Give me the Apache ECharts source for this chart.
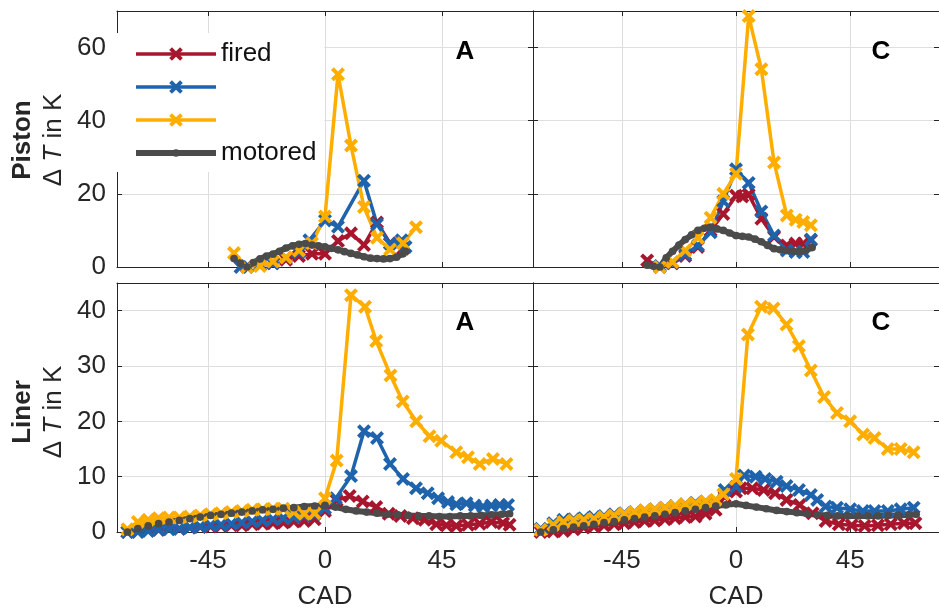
<!DOCTYPE html>
<html><head><meta charset="utf-8">
<script src="https://cdn.jsdelivr.net/npm/echarts@6/dist/echarts.min.js"></script>
<style>html,body{margin:0;padding:0;background:#fff}#c{width:939px;height:611px}</style>
</head><body><div id="c"></div>
<script>
// ---------- tick labels ----------
const xTicks = [-45, 0, 45];
const pistonTicks = [0, 20, 40, 60];
const linerTicks = [0, 10, 20, 30, 40];
const seriesNames = ['fired', 'series2', 'series3', 'motored'];
const legendLabels = {fired: 'fired', series2: ' ', series3: '  ', motored: 'motored'};
const panelLabels = ['A', 'C', 'A', 'C'];

// ---------- Piston, A ----------
const pistonA_fired = [[-30,0.2],[-25,0.5],[-20,1],[-15,2],[-10,3],[-5,3.6],[0,3.6],[5,7.1],[10,9.2],[15,6],[20,12.2],[25,6.5],[30,5]];
const pistonA_s2 = [[-32.5,0],[-30,0],[-25,0.5],[-20,1],[-15,2.5],[-10,4],[-6,7.3],[0,12.7],[5,11],[15,23.6],[20,11.7],[25,6.4],[29.5,7.3],[31,5.5]];
const pistonA_s3 = [[-35,3.8],[-30,0],[-25,0.3],[-20,1.5],[-15,2.6],[-10,4.5],[-5,6.5],[0,13.8],[5,52.7],[10,33.2],[15,16.4],[20,8],[25,4.8],[30,6.5],[35,10.9]];
const pistonA_motored = [[-35,2.3],[-32.5,1],[-30,0],[-27.5,1.2],[-25,2.2],[-22.5,3],[-20,3.5],[-17.5,4.3],[-15,5.2],[-12.5,5.8],[-10,6.2],[-7.5,6.4],[-5,6],[-2.5,5.8],[0,5.5],[2.5,5.1],[5,4.7],[7.5,4.2],[10,3.7],[12.5,3.3],[15,2.8],[17.5,2.4],[20,2.3],[22.5,2.2],[25,2.3],[27.5,2.7],[30,3.6],[31,4.3]];

// ---------- Piston, C ----------
const pistonC_fired = [[-35,1.8],[-30,0],[-25,1],[-20,3],[-15,5.5],[-10,10],[-5,14.5],[0,19.5],[2.5,19.3],[5,19.8],[10,13.2],[15,8.2],[20,5.9],[23.5,6.4],[26.5,6.4],[29.5,7.3]];
const pistonC_s2 = [[-30,0.3],[-25,1],[-20,3.4],[-15,5.9],[-10,9.5],[-5,18],[0,26.7],[5,23],[10,15.2],[15,8.6],[20,4.5],[23.5,4.1],[26.5,4.1],[29.5,7.5]];
const pistonC_s3 = [[-30,0],[-25,1.4],[-20,4.5],[-15,8],[-10,13.5],[-5,20],[0,25.5],[5,68.6],[10,54.1],[15,28.6],[20,14.1],[23.5,12.9],[26.5,12.3],[29.5,11.4]];
const pistonC_motored = [[-35,0.5],[-32.5,0.2],[-30,0],[-27.5,2.5],[-25,4.3],[-22.5,6],[-20,7.5],[-17.5,8.8],[-15,10],[-12.5,10.6],[-10,10.9],[-7.5,10.4],[-5,10],[-2.5,9.3],[0,8.6],[2.5,8.4],[5,8.2],[7.5,7.6],[10,6.9],[12.5,5.9],[15,5],[17.5,4.7],[20,4.5],[22.5,4.3],[25,4.2],[27.5,4.5],[30,5.3]];

// ---------- Liner, A ----------
const linerA_fired = [[-76,0],[-72,0.1],[-68,0.3],[-64,0.4],[-60,0.6],[-56,0.6],[-52,0.8],[-48,0.9],[-44,1],[-40,1.1],[-36,1.2],[-32,1.2],[-28,1.4],[-24,1.5],[-20,1.6],[-16,1.7],[-12,1.9],[-8,2],[-4,2.3],[0,3.8],[4.5,5.7],[9.5,6.5],[14.5,5.5],[19.7,4.5],[24.5,3.3],[29,2.9],[33.8,2.5],[38.3,2.2],[42.8,1.4],[46.7,1.2],[50.5,1.1],[55,1.3],[59.5,1.5],[64,1.8],[68.5,1.6],[71,1.3]];
const linerA_s2 = [[-76,0],[-72,0],[-68,0.2],[-64,0.4],[-60,0.5],[-56,0.6],[-52,0.8],[-48,1],[-44,1.2],[-40,1.3],[-36,1.5],[-32,1.7],[-28,1.9],[-24,2.1],[-20,2.3],[-16,2.5],[-12,2.7],[-8,3],[-4,3.2],[0,4.3],[4.2,6.1],[10,10.1],[15,18.2],[20,17],[25,12.3],[30,9.6],[35,7.9],[39.5,7],[43.5,6.1],[47.3,5.4],[50.5,5],[54.4,5.2],[57.6,4.8],[60.8,4.6],[64,4.8],[67.2,4.9],[70.4,4.9]];
const linerA_s3 = [[-76,0.5],[-72,1.8],[-68,2.2],[-64,2.5],[-60,2.6],[-56,2.6],[-52,2.8],[-48,3],[-44,3.2],[-40,3.4],[-36,3.6],[-32,3.8],[-28,4],[-24,4.1],[-20,4.2],[-16,4.2],[-12,3.6],[-8,3.3],[-4,3.4],[0,6.1],[4.5,12.9],[10,42.8],[15.4,40.7],[19.7,34.5],[25.2,28.3],[29.9,23.6],[35.1,20],[40.2,17.3],[44.7,16.5],[50.5,14.4],[55,13.5],[59.5,12.3],[64.6,13.2],[69.8,12.3]];
const linerA_motored = [[-76,0],[-72,0.6],[-68,1.1],[-64,1.5],[-60,1.8],[-56,2.1],[-52,2.4],[-48,2.7],[-44,3],[-40,3.2],[-36,3.4],[-32,3.6],[-28,3.8],[-24,4],[-20,4.1],[-16,4.3],[-12,4.4],[-8,4.6],[-4,4.7],[0,4.8],[4,4.5],[8,4.1],[12,3.8],[16,3.6],[20,3.4],[24,3.2],[28,3.1],[32,3],[36,2.9],[40,2.9],[44,2.8],[48,2.8],[52,2.9],[56,2.9],[60,3],[64,3.1],[68,3.2],[71,3.3]];

// ---------- Liner, C ----------
const linerC_fired = [[-77,0],[-72,0.1],[-68,0.2],[-64,0.5],[-60,0.8],[-56,1],[-52,1.2],[-48,1.4],[-44,1.6],[-40,1.8],[-36,2],[-32,2.1],[-28,2.3],[-24,2.5],[-20,2.7],[-16,2.8],[-12,3.3],[-8,4],[-4.5,6.4],[0,7.3],[1.9,7.9],[6.4,7.9],[10.9,7.6],[15.4,7],[19.9,5.8],[25.1,4.9],[30.2,3.4],[35.3,2],[40.5,1.4],[45.6,1.2],[50.7,1.1],[55.9,1.2],[61,1.4],[66.2,1.6],[70.7,1.6]];
const linerC_s2 = [[-77,0.6],[-72,1.6],[-68,2.2],[-64,2.3],[-60,2.5],[-56,2.7],[-52,2.9],[-48,3.2],[-44,3.4],[-40,3.6],[-36,3.9],[-32,4.1],[-28,4.4],[-24,4.7],[-20,5],[-16,5.3],[-12,5.5],[-8,5.7],[-4.5,7.6],[0,8.2],[3.2,10.2],[7.7,10],[11.5,9.6],[16,9.1],[19.9,8.3],[24.8,7.6],[29.5,6.7],[32,5.8],[35.3,4.6],[39.8,4.4],[45,4.1],[50,3.8],[54.6,3.8],[59.8,3.8],[64.9,4.1],[70,4.4]];
const linerC_s3 = [[-77,0.4],[-72,1.3],[-68,1.8],[-64,2.1],[-60,2.2],[-56,2.4],[-52,2.7],[-48,3],[-44,3.3],[-40,3.6],[-36,3.9],[-32,4.1],[-28,4.4],[-24,4.7],[-20,5],[-16,5.2],[-12,5.5],[-8,5.8],[-5,6.8],[0,9.6],[4.7,35.7],[9.9,40.7],[14.8,40.4],[19.9,37.5],[24.8,33.6],[29.5,29.2],[34.7,24.4],[39.8,21.5],[45,20],[50.1,17.6],[54.6,17],[59.8,15],[64.9,15],[70,14.4]];
const linerC_motored = [[-77,0],[-72,0.4],[-68,0.6],[-64,0.9],[-60,1.1],[-56,1.4],[-52,1.7],[-48,1.9],[-44,2.2],[-40,2.4],[-36,2.7],[-32,2.9],[-28,3.2],[-24,3.5],[-20,3.8],[-16,4.1],[-12,4.4],[-8,4.7],[-4,4.9],[0,5.1],[4,4.8],[8,4.5],[12,4.2],[16,3.9],[20,3.7],[24,3.5],[28,3.3],[32,3.1],[36,3],[40,2.9],[44,2.9],[48,2.9],[52,2.9],[56,2.9],[60,3],[64,3],[68,3.1],[71,3.2]];

const panelData = [
  [pistonA_fired, pistonA_s2, pistonA_s3, pistonA_motored],
  [pistonC_fired, pistonC_s2, pistonC_s3, pistonC_motored],
  [linerA_fired, linerA_s2, linerA_s3, linerA_motored],
  [linerC_fired, linerC_s2, linerC_s3, linerC_motored]
];

// ---------- styles ----------
const FONT = '"Liberation Sans", Arial, Helvetica, sans-serif';
const TXT = '#262626';
const AX = '#262626';
const GRIDC = '#dedede';
const COLORS = ['#A8162E', '#1F63AC', '#FFAE00', '#4B4B4B'];
const XMARK = 'path://M0,4L4,0L10,6L16,0L20,4L14,10L20,16L16,20L10,14L4,20L0,16L6,10Z';
const DOT = 'path://M0,0M20,20M4.5,10A5.5,5.5,0,1,1,15.5,10A5.5,5.5,0,1,1,4.5,10Z';

const grids = [
  {left: 117, top: 11, width: 416, height: 256},
  {left: 533, top: 11, width: 416, height: 256},
  {left: 117, top: 283, width: 416, height: 253},
  {left: 533, top: 283, width: 416, height: 253}
];

const xAxes = [], yAxes = [], series = [];
for (let g = 0; g < 4; g++) {
  const bottomRow = g >= 2;
  const yMax = bottomRow ? 45 : 70;
  const yTicks = bottomRow ? linerTicks : pistonTicks;
  xAxes.push({
    type: 'value', gridIndex: g, position: 'bottom', min: -80, max: 80,
    axisLine: {show: true, onZero: false, lineStyle: {color: AX, width: 1}},
    axisTick: {show: true, inside: true, length: 5, customValues: xTicks, lineStyle: {color: AX}},
    axisLabel: {show: bottomRow, customValues: xTicks, fontSize: 26, color: TXT, margin: 16, fontFamily: FONT},
    splitLine: {show: true, lineStyle: {color: GRIDC, width: 1}},
    name: bottomRow ? 'CAD' : '', nameLocation: 'middle', nameGap: 52,
    nameTextStyle: {fontSize: 26, color: TXT, fontFamily: FONT}
  });
  xAxes.push({
    type: 'value', gridIndex: g, position: 'top', min: -80, max: 80,
    axisLine: {show: true, onZero: false, lineStyle: {color: AX, width: 1}},
    axisTick: {show: true, inside: true, length: 5, customValues: xTicks, lineStyle: {color: AX}},
    axisLabel: {show: false}, splitLine: {show: false}
  });
  yAxes.push({
    type: 'value', gridIndex: g, position: 'left', min: 0, max: yMax,
    axisLine: {show: true, onZero: false, lineStyle: {color: AX, width: 1}},
    axisTick: {show: true, inside: true, length: 5, customValues: yTicks, lineStyle: {color: AX}},
    axisLabel: {show: g % 2 === 0, customValues: yTicks, fontSize: 26, color: TXT, margin: 11, fontFamily: FONT},
    splitLine: {show: true, lineStyle: {color: GRIDC, width: 1}}
  });
  yAxes.push({
    type: 'value', gridIndex: g, position: 'right', min: 0, max: yMax,
    axisLine: {show: true, onZero: false, lineStyle: {color: AX, width: 1}},
    axisTick: {show: true, inside: true, length: 5, customValues: yTicks, lineStyle: {color: AX}},
    axisLabel: {show: false}, splitLine: {show: false}
  });
  for (let s = 0; s < 4; s++) {
    const isM = s === 3;
    series.push({
      type: 'line', name: seriesNames[s], xAxisIndex: 2 * g, yAxisIndex: 2 * g,
      data: panelData[g][s], clip: false, silent: true,
      symbol: isM ? DOT : XMARK, symbolSize: 14,
      itemStyle: {color: COLORS[s]},
      lineStyle: {color: COLORS[s], width: isM ? 6 : 3.5},
      emphasis: {disabled: true}
    });
  }
}

const graphics = [];
const labelPos = [[465, 52], [881, 52], [465, 323], [881, 323]];
for (let g = 0; g < 4; g++) {
  graphics.push({type: 'text', x: labelPos[g][0], y: labelPos[g][1], z: 100,
    style: {text: panelLabels[g], fontSize: 26, fontWeight: 'bold', fontFamily: FONT, fill: '#000', align: 'center', verticalAlign: 'middle'}});
}
const rowNames = [['Piston', 140], ['Liner', 412]];
rowNames.forEach(([nm, yc]) => {
  graphics.push({type: 'text', x: 38, y: yc, rotation: Math.PI / 2, z: 100,
    style: {text: '{b|' + nm + '}\n{n|Δ }{i|T}{n| in K}', align: 'center', verticalAlign: 'middle', fill: TXT,
      fontSize: 26, fontFamily: FONT,
      rich: {
        b: {fontSize: 26, fontWeight: 'bold', fontFamily: FONT, fill: TXT, lineHeight: 31, align: 'center'},
        n: {fontSize: 26, fontFamily: FONT, fill: TXT, lineHeight: 31},
        i: {fontSize: 26, fontStyle: 'italic', fontFamily: FONT, fill: TXT, lineHeight: 31}
      }}});
});

const chart = echarts.init(document.getElementById('c'), null, {renderer: 'canvas'});
chart.setOption({
  animation: false,
  backgroundColor: '#fff',
  grid: grids,
  xAxis: xAxes,
  yAxis: yAxes,
  legend: {
    data: seriesNames, orient: 'vertical', left: 117, top: 33, z: 20,
    backgroundColor: '#fff', padding: [8, 8, 6, 16], itemWidth: 80, itemHeight: 17, itemGap: 7,
    formatter: n => legendLabels[n], selectedMode: false,
    lineStyle: {width: 'inherit'},
    textStyle: {fontSize: 26, color: '#111', fontFamily: FONT, lineHeight: 26}
  },
  graphic: graphics,
  series: series
});
</script></body></html>
